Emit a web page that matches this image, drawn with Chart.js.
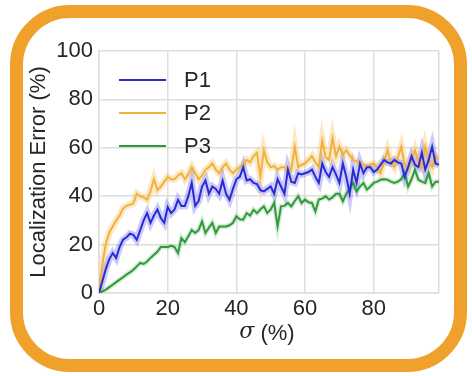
<!DOCTYPE html>
<html>
<head>
<meta charset="utf-8">
<script src="https://cdn.jsdelivr.net/npm/chart.js@4.4.1/dist/chart.umd.min.js"></script>
<style>
  html, body { margin: 0; padding: 0; background: #fff; }
  #frame { position: absolute; left: 10px; top: 5px; width: 457px; height: 367px; box-sizing: border-box;
           border: 13px solid #f0a12c; border-radius: 60px; }
  #wrap { position: absolute; left: 0; top: 0; width: 472px; height: 376px; }
</style>
</head>
<body>
<div id="frame"></div>
<div id="wrap"><canvas id="c" width="472" height="376"></canvas></div>
<script>
// sigma (%) values on the x axis
var sigma = [0,1,2,3,4,5,6,7,8,9,10,11,12,13,14,15,16,17,18,19,20,21,22,23,24,25,26,27,28,29,
  30,31,32,33,34,35,36,37,38,39,40,41,42,43,44,45,46,47,48,49,50,51,52,53,54,55,56,57,58,59,
  60,61,62,63,64,65,66,67,68,69,70,71,72,73,74,75,76,77,78,79,80,81,82,83,84,85,86,87,88,89,
  90,91,92,93,94,95,96,97,98,99];

// localization error (%)
var p1 = [0,5,10,14,16.5,14.5,19,22,23,24.5,24,22,26,30,33,29,32,34.5,31,29,
  35.5,33,34.5,38.5,36,36,40,45.5,36,38,44,46.5,41,44,43,41,46.5,41,38.5,43,
  47,48,52,46.5,47,45.5,45,42.5,42,43,44,41,47,44,41,51,46,45.5,49.5,49,
  49.5,50,51,48,45.5,53.5,50,48,52,49,45.5,53.5,48,41,51,45.5,53.5,49.5,52,52,
  50,51,53,55,54,53.5,55,54,53.5,48,52,56.5,53,52,58,51,55,60.5,53.5,53];
var p2 = [0,12,20.5,25,27.5,30,32,35,36,36.5,37,41,40,39.5,38.5,42,47,42.5,44,46,
  48,47,47,48.5,49.5,47,49,52,49.5,47,48.5,51,52,53.5,51,49.5,52,53.5,51,49.5,
  51,52,53,55,54,56.5,58,48,59,54,52,52.5,51,52,52,50.5,51,60.5,52,53,
  53.5,55,56.5,54,52,63,56,55,64,56.5,60.5,57,59,57,55,54.5,53.5,53,52,53,
  53.5,52,49.5,54,59,54,52,56,60.5,53,51,55,59,54,52,60.5,55,52,56.5,55];
var p3 = [0,0.7,1.4,2.4,3.4,4.5,5.5,6.5,7.6,8.5,9.6,11,12.4,12,13,14.5,15.8,17,19,19,
  19,19.5,19,16.5,22.7,21,23.4,26,24.8,26,29.6,24.8,27,29,24.8,27.5,27.5,27.5,28,29,
  31.7,30.5,30.3,33,32,34.4,33,34.5,35.8,33,34.5,37.2,27.5,35.8,36,37.2,35.8,38,40,37.2,
  38.6,37.5,37.2,33.7,38.6,39,40,38.6,39.5,41,41,37.9,41,43,45.5,42,44,45.5,42.7,44,
  45.5,46,46.8,47,46.8,46,45.5,46,47,49.6,44,47,51,46.8,46,45.5,49.6,44,46,46];

var yTicks = [0, 20, 40, 60, 80, 100];
var xTicks = [0, 20, 40, 60, 80];

var names = ['P1', 'P2', 'P3'];
var colors = ['#2b2bd6', '#f0b23c', '#2f9a3c'];
var bandColors = ['rgba(110,110,240,0.35)', 'rgba(245,190,90,0.35)', 'rgba(90,180,90,0.25)'];

function pts(arr) {
  return arr.map(function (v, i) { return { x: sigma[i], y: v }; });
}

var series = [p1, p2, p3];
var datasets = [];
for (var i = 0; i < 3; i++) {
  datasets.push({ label: names[i], data: pts(series[i]), borderColor: colors[i], borderWidth: 2,
    pointRadius: 0, tension: 0, order: i });
}
for (var j = 0; j < 3; j++) {
  datasets.push({ label: names[j] + ' band', data: pts(series[j]), borderColor: bandColors[j],
    borderWidth: j == 2 ? 5 : 7, pointRadius: 0, tension: 0, order: 10 + j });
}

var textColor = '#262626';
var fam = '"Liberation Sans", Arial, sans-serif';

var extras = {
  id: 'extras',
  afterDatasetsDraw: function (chart) {
    var ctx = chart.ctx;
    var a = chart.chartArea;
    ctx.save();
    // legend inside the plot
    for (var i = 0; i < 3; i++) {
      var ds = chart.data.datasets[i];
      var y = a.top + 29 + i * 33;
      ctx.strokeStyle = ds.borderColor;
      ctx.lineWidth = 2;
      ctx.beginPath();
      ctx.moveTo(a.left + 20, y);
      ctx.lineTo(a.left + 67, y);
      ctx.stroke();
      ctx.fillStyle = textColor;
      ctx.font = '22px ' + fam;
      ctx.textBaseline = 'middle';
      ctx.textAlign = 'left';
      ctx.fillText(ds.label, a.left + 85, y + 1);
    }
    // x axis title: sigma (%)
    var cx = (a.left + a.right) / 2 - 2;
    var ty = 334;
    ctx.font = 'italic 22px "DejaVu Serif", serif';
    var w1 = ctx.measureText('\u03c3').width;
    ctx.font = '22px ' + fam;
    var w2 = ctx.measureText(' (%)').width;
    var x0 = cx - (w1 + w2) / 2;
    ctx.textAlign = 'left';
    ctx.textBaseline = 'middle';
    ctx.font = 'italic 22px "DejaVu Serif", serif';
    ctx.fillText('\u03c3', x0, ty - 2);
    ctx.font = '22px ' + fam;
    ctx.fillText(' (%)', x0 + w1, ty);
    ctx.restore();
  }
};

new Chart(document.getElementById('c'), {
  type: 'line',
  data: { datasets: datasets },
  plugins: [extras],
  options: {
    responsive: false,
    animation: false,
    layout: { padding: { left: 22, top: 51, right: 33, bottom: 0 } },
    plugins: { legend: { display: false }, tooltip: { enabled: false } },
    scales: {
      x: {
        type: 'linear', min: 0, max: 99,
        afterFit: function (s) { s.height = 83; },
        afterBuildTicks: function (s) {
          s.ticks = xTicks.map(function (v) { return { value: v }; }).concat([{ value: 99 }]);
        },
        ticks: { color: textColor, font: { size: 22, family: fam }, padding: 3, maxRotation: 0,
          callback: function (v) { return xTicks.indexOf(v) >= 0 ? String(v) : ''; } },
        grid: { color: '#dedede', lineWidth: 1.5, drawTicks: false },
        border: { color: '#dedede', width: 1.5 }
      },
      y: {
        min: 0, max: 100,
        afterFit: function (s) { s.width = 77; },
        afterBuildTicks: function (s) {
          s.ticks = yTicks.map(function (v) { return { value: v }; });
        },
        ticks: { color: textColor, font: { size: 22, family: fam }, padding: 6 },
        grid: { color: '#dedede', lineWidth: 1.5, drawTicks: false },
        border: { color: '#dedede', width: 1.5 },
        title: { display: true, text: 'Localization Error (%)', color: textColor,
          font: { size: 22, family: fam }, padding: { top: 4, bottom: 0 } }
      }
    }
  }
});
</script>
</body>
</html>
